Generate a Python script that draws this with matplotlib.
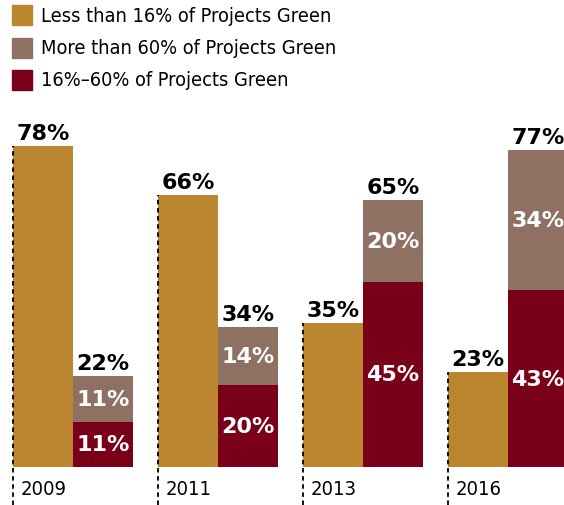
import numpy as np
import matplotlib.pyplot as plt

years = ['2009', '2011', '2013', '2016']
less16 = [78, 66, 35, 23]
mid = [11, 20, 45, 43]
more60 = [11, 14, 20, 34]
legend_labels = ['Less than 16% of Projects Green',
                 'More than 60% of Projects Green',
                 '16%\u201360% of Projects Green']

gold = '#BC8630'
taupe = '#8E7163'
maroon = '#7A0019'

plt.rcParams['font.family'] = ['DejaVu Sans']

fig = plt.figure(figsize=(5.64, 5.06), dpi=100)
ax = fig.add_axes([0, 0, 1, 1])
# 145 px per group, 4.115 px per percent point
ax.set_xlim(-13 / 145, 551 / 145)
ax.set_ylim(-38 / 4.115, 468 / 4.115)
ax.axis('off')

w = 60 / 145
x = np.arange(len(years))
totals = np.array(mid) + np.array(more60)

ax.bar(x, less16, width=w, align='edge', color=gold)
ax.bar(x + w, mid, width=w, align='edge', color=maroon)
ax.bar(x + w, more60, width=w, bottom=mid, align='edge', color=taupe)

ylo = ax.get_ylim()[0]
for i in range(len(years)):
    ax.plot([x[i], x[i]], [ylo, less16[i]], color='black', lw=1.3,
            linestyle=(0, (2.5, 2)), zorder=3)
    ax.text(x[i] + 0.05, -5.3, years[i], fontsize=14.5, va='center', ha='left',
            fontstretch='condensed')
    ax.text(x[i] + w / 2, less16[i] + 1.7, f'{less16[i]}%', fontsize=16,
            fontweight='bold', ha='center', va='baseline')
    ax.text(x[i] + 1.5 * w, totals[i] + 1.7, f'{totals[i]}%', fontsize=16,
            fontweight='bold', ha='center', va='baseline')
    ax.text(x[i] + 1.5 * w, mid[i] / 2, f'{mid[i]}%', fontsize=16,
            fontweight='bold', ha='center', va='center', color='white')
    ax.text(x[i] + 1.5 * w, mid[i] + more60[i] / 2, f'{more60[i]}%', fontsize=16,
            fontweight='bold', ha='center', va='center', color='white')

# legend drawn by hand in figure pixels
colors = [gold, taupe, maroon]
for k, lab in enumerate(legend_labels):
    yc = 1 - (16 + 32.5 * k) / 506
    fig.patches.append(plt.Rectangle((12 / 564, yc - 10 / 506), 20 / 564, 20 / 506,
                                     transform=fig.transFigure, color=colors[k]))
    fig.text(41 / 564, yc, lab, fontsize=14.3, va='center', ha='left',
             fontstretch='condensed')

fig.savefig('out.png', dpi=100)
